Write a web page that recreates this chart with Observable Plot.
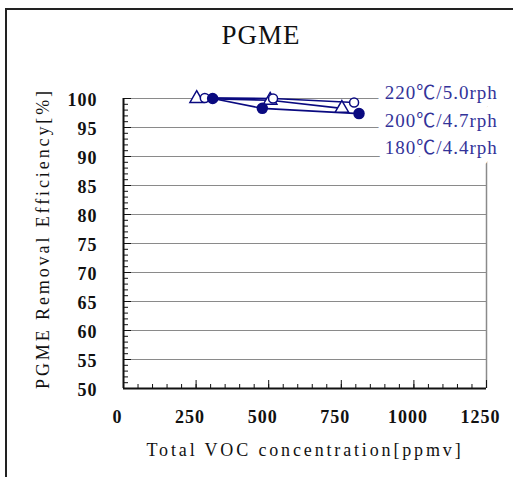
<!DOCTYPE html>
<html>
<head>
<meta charset="utf-8">
<script src="https://cdn.jsdelivr.net/npm/d3@7"></script>
<script src="https://cdn.jsdelivr.net/npm/@observablehq/plot@0.6"></script>
<style>
  html, body { margin: 0; padding: 0; background: #fff; }
  #wrap { position: relative; width: 513px; height: 477px; overflow: hidden; }
  #border { position: absolute; left: 5px; top: 8px; width: 600px; height: 600px;
            border-left: 2px solid #222; border-top: 2px solid #222; box-sizing: border-box; }
  #title { position: absolute; left: 0; width: 522px; top: 20px; text-align: center;
           font-family: "Liberation Serif", serif; font-size: 27px; color: #111; letter-spacing: 1px; }
  #chart { position: absolute; left: 0; top: 0; }
</style>
</head>
<body>
<div id="wrap">
  <div id="border"></div>
  <div id="chart"></div>
  <div id="title">PGME</div>
</div>
<script>
// ---- data ----
const seriesNames = ["220℃/5.0rph", "200℃/4.7rph", "180℃/4.4rph"];
const seriesSymbols = ["circle", "triangle", "circle"];
const seriesFilled = [false, false, true];
const conc220 = [280, 515, 794];
const eff220 = [100.1, 100.0, 99.3];
const conc200 = [252, 505, 752];
const eff200 = [100.0, 99.7, 98.3];
const conc180 = [307, 478, 811];
const eff180 = [100.0, 98.3, 97.4];
const xTicks = [0, 250, 500, 750, 1000, 1250];
const yTicks = [50, 55, 60, 65, 70, 75, 80, 85, 90, 95, 100];
const xMinorTicks = d3.range(0, 1251, 50);
const yMinorTicks = d3.range(50, 101, 1);
const legendLabels = ["220℃/5.0rph", "200℃/4.7rph", "180℃/4.4rph"];
const xTitle = "Total VOC concentration[ppmv]";
const yTitle = "PGME Removal Efficiency[%]";

const concs = [conc220, conc200, conc180];
const effs = [eff220, eff200, eff180];
const rows = [];
seriesNames.forEach((s, i) => {
  concs[i].forEach((c, j) => rows.push({series: s, conc: c, eff: effs[i][j], symbol: seriesSymbols[i], filled: seriesFilled[i]}));
});

const W = 513, H = 477, mL = 123, mR = 27, mT = 98, mB = 89;
const plotW = W - mL - mR, plotH = H - mT - mB;
const navy = "#0a0a80";
const serif = "'Liberation Serif', 'Noto Sans CJK JP', serif";

const chart = Plot.plot({
  width: W, height: H,
  marginLeft: mL, marginRight: mR, marginTop: mT, marginBottom: mB,
  style: {fontFamily: serif, background: "transparent", color: "#111", overflow: "visible"},
  x: {domain: [0, 1250]},
  y: {domain: [50, 100]},
  marks: [
    Plot.gridY(yTicks.filter(v => v > 50), {stroke: "#8a8a8a", strokeOpacity: 1, strokeWidth: 1}),
    Plot.ruleX([1250], {stroke: "#8a8a8a", strokeWidth: 1.5}),
    // minor / major ticks pointing inward
    Plot.tickX(xMinorTicks, {x: d => d, insetTop: plotH - 4, stroke: "#111"}),
    Plot.tickX(xTicks, {x: d => d, insetTop: plotH - 8, stroke: "#111"}),
    Plot.tickY(yMinorTicks, {y: d => d, insetRight: plotW - 5, stroke: "#111"}),
    Plot.tickY(yTicks, {y: d => d, insetRight: plotW - 8, stroke: "#111"}),
    // axes labels
    Plot.axisX({ticks: xTicks, tickFormat: d => String(d), tickSize: 0, tickPadding: 22, dx: -6,
      fontSize: 18, fontWeight: "bold", label: null}),
    Plot.axisY({ticks: yTicks, tickFormat: d => String(d), tickSize: 0, tickPadding: 26, dy: 2,
      fontSize: 18, fontWeight: "bold", label: null}),
    Plot.text([xTitle], {frameAnchor: "bottom", dy: 67, dx: 0, fontSize: 18, fill: "#111"}),
    Plot.text([yTitle], {frameAnchor: "left", textAnchor: "middle", dx: -80, dy: -5, rotate: -90,
      fontSize: 18, fill: "#111"}),
    // series lines
    Plot.line(rows, {x: "conc", y: "eff", z: "series", stroke: navy, strokeWidth: 1.6}),
    Plot.dot(rows.filter(d => d.symbol === "triangle"), {x: "conc", y: "eff", symbol: "triangle", r: 5,
      stroke: navy, strokeWidth: 1.5, fill: "white"}),
    Plot.dot(rows.filter(d => d.symbol === "circle" && !d.filled), {x: "conc", y: "eff", r: 4.5,
      stroke: navy, strokeWidth: 1.5, fill: "white"}),
    Plot.dot(rows.filter(d => d.filled), {x: "conc", y: "eff", r: 5, fill: navy, stroke: navy}),
    // series labels
    Plot.text(legendLabels, {x: () => 900, y: (d, i) => 101.0 - 4.8 * i, textAnchor: "start",
      fontSize: 19, fill: "#333399", stroke: "white", strokeWidth: 14, paintOrder: "stroke"}),
    // axis lines
    Plot.ruleX([0], {stroke: "#111", strokeWidth: 2}),
    Plot.ruleY([50], {stroke: "#111", strokeWidth: 2})
  ]
});
// letter spacing to mimic the wide fixed-pitch original type
d3.select(chart).selectAll("text").each(function() {
  const t = this.textContent;
  if (t === xTitle) this.style.letterSpacing = "2.85px";
  if (t === yTitle) this.style.letterSpacing = "2.9px";
  if (legendLabels.includes(t)) this.style.letterSpacing = "1px";
  if (xTicks.map(String).includes(t) || yTicks.map(String).includes(t)) this.style.letterSpacing = "1px";
});
document.getElementById("chart").appendChild(chart);
</script>
</body>
</html>
